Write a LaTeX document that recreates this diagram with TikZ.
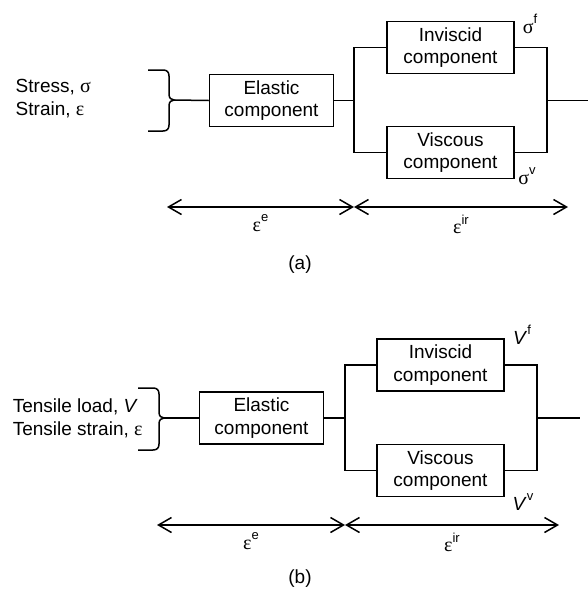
\documentclass[tikz,border=0pt]{standalone}
\usepackage{fontspec}
\setmainfont{Liberation Sans}
\newfontfamily\grk{Liberation Serif}
\usetikzlibrary{arrows.meta}
\newcommand{\gsym}[1]{{\grk\fontsize{20}{22}\selectfont #1}}
\newcommand{\supx}[1]{\raisebox{0.5em}{\fontsize{13}{13}\selectfont #1}}
\begin{document}
\begin{tikzpicture}[x=1pt,y=-1pt,line width=1.5pt,
  comp/.style={draw,line width=1.5pt,minimum width=124pt,minimum height=52pt,
    align=center,inner sep=0pt,font=\fontsize{19}{22.5}\selectfont},
  txt/.style={inner sep=0pt,font=\fontsize{19}{23}\selectfont},
  lbl/.style={inner sep=0pt,font=\fontsize{19}{22}\selectfont},
  dim/.style={{Straight Barb[length=13pt,width=15pt,line width=1.5pt]}-{Straight Barb[length=13pt,width=15pt,line width=1.5pt]},line width=1.5pt}]
\useasboundingbox (0,0) rectangle (588,590);

% ---------------- (a) ----------------
\node[txt,align=left,anchor=west] (inA) at (15,99) {Stress, \gsym{σ}\\Strain, \gsym{ε}};
\coordinate (tipA) at (174,100);
\draw (148,70) -- (163,70) .. controls (167,70) and (169,72) .. (169,76) -- (169,94)
  .. controls (169,98) and (171,100) .. (tipA)
  .. controls (171,100) and (169,102) .. (169,106) -- (169,125)
  .. controls (169,129) and (167,131) .. (163,131) -- (148,131);
\node[comp] (elA) at (271.5,100.5) {Elastic\\component};
\node[comp,minimum width=127pt] (invA) at (450.5,47.5) {Inviscid\\component};
\node[comp,minimum width=127pt] (visA) at (450.5,152.5) {Viscous\\component};
\coordinate (splA) at (354,100.5);
\coordinate (joinA) at (547,100.5);
\coordinate (outA) at (588,100.5);
\draw (tipA) -- (elA.west);
\draw (elA.east) -- (splA);
\draw (invA.west) -| (splA) |- (visA.west);
\draw (invA.east) -| (joinA) |- (visA.east);
\draw (joinA) -- (outA);
\node[lbl] (sf) at (530,24) {\gsym{σ}\supx{f}};
\node[lbl] (sv) at (527,176) {\gsym{σ}\supx{v}};
\coordinate (aL) at (167,207);
\coordinate (aM) at (354,207);
\coordinate (aR) at (568,207);
\draw[dim] (aL) -- node[lbl,below=7pt] (eeA) {\gsym{ε}\supx{e}} (aM);
\draw[dim] (aM) -- node[lbl,below=7pt] (eiA) {\gsym{ε}\supx{ir}} (aR);
\node[lbl] (capA) at (300,265) {(a)};

% ---------------- (b) ----------------
\node[txt,align=left,anchor=west] (inB) at (12,418) {Tensile load, \textit{V}\\Tensile strain, \gsym{ε}};
\coordinate (tipB) at (164,418);
\draw (138,388) -- (153,388) .. controls (157,388) and (159,390) .. (159,394) -- (159,412)
  .. controls (159,416) and (161,418) .. (tipB)
  .. controls (161,418) and (159,420) .. (159,424) -- (159,444)
  .. controls (159,448) and (157,450) .. (153,450) -- (138,450);
\node[comp] (elB) at (261.5,418) {Elastic\\component};
\node[comp,minimum width=127pt] (invB) at (440.5,365) {Inviscid\\component};
\node[comp,minimum width=127pt] (visB) at (440.5,470.5) {Viscous\\component};
\coordinate (splB) at (345,418);
\coordinate (joinB) at (537,418);
\coordinate (outB) at (580,418);
\draw (tipB) -- (elB.west);
\draw (elB.east) -- (splB);
\draw (invB.west) -| (splB) |- (visB.west);
\draw (invB.east) -| (joinB) |- (visB.east);
\draw (joinB) -- (outB);
\node[lbl] (vf) at (522,335) {\textit{V}\supx{f}};
\node[lbl] (vv) at (523,502) {\textit{V}\supx{v}};
\coordinate (bL) at (157,525);
\coordinate (bM) at (345,525);
\coordinate (bR) at (559,525);
\draw[dim] (bL) -- node[lbl,below=7pt] (eeB) {\gsym{ε}\supx{e}} (bM);
\draw[dim] (bM) -- node[lbl,below=7pt] (eiB) {\gsym{ε}\supx{ir}} (bR);
\node[lbl] (capB) at (300,579) {(b)};
\end{tikzpicture}
\end{document}
